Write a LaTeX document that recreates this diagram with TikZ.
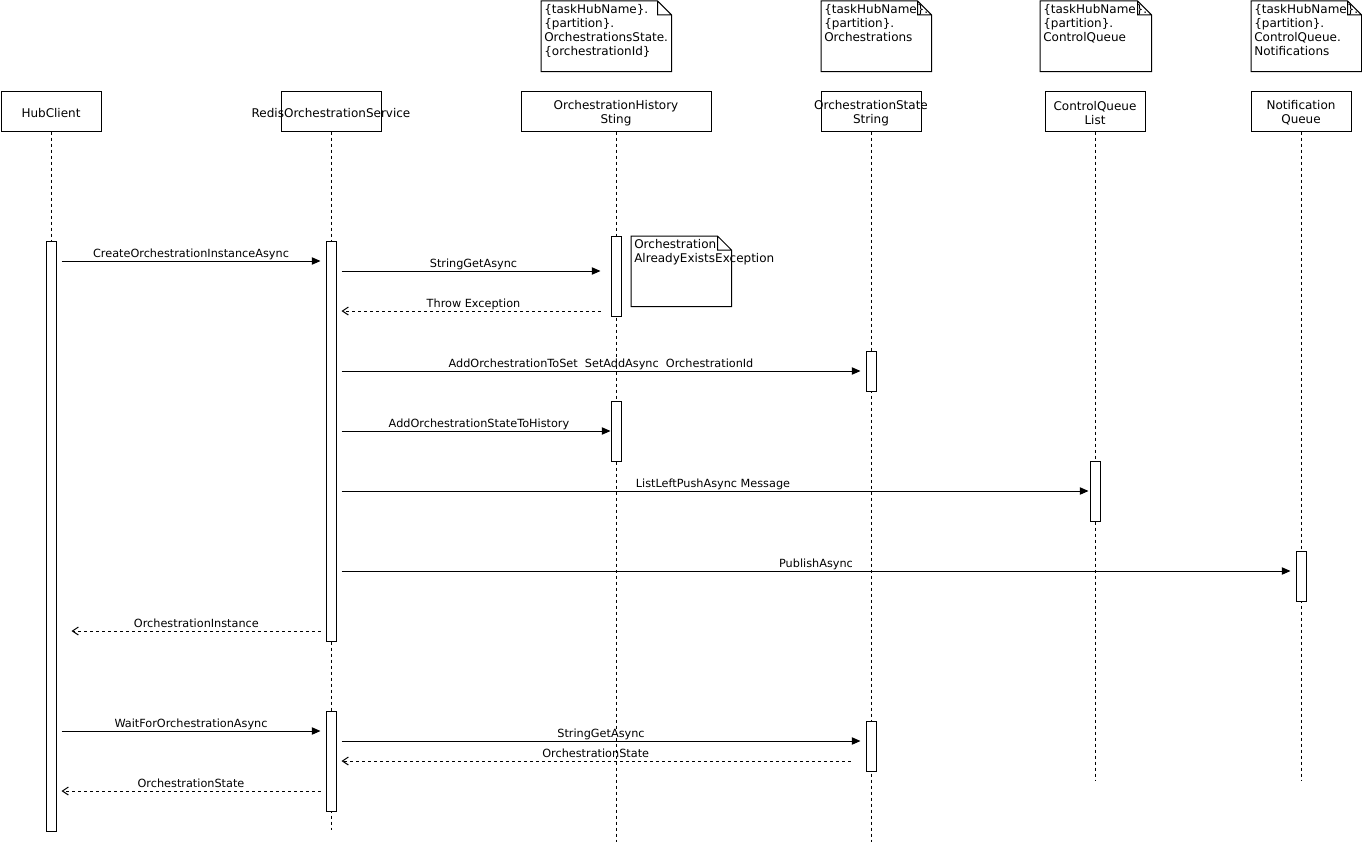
\documentclass[tikz,border=0pt]{standalone}
\usepackage{fontspec}
\setmainfont{DejaVu Sans}
\usetikzlibrary{arrows.meta}

\begin{document}
\begin{tikzpicture}[
    x=0.75pt, y=-0.75pt,
    lifehead/.style={
        draw,
        line width=0.75pt,
        minimum width=75pt,
        minimum height=30pt,
        inner sep=0pt,
    },
    headtext/.style={
        inner sep=0pt,
        align=center,
        yshift=-1.5pt,
        font=\fontsize{9}{10.5}\selectfont,
    },
    lifeline/.style={
        line width=0.75pt,
        dash pattern=on 2.25pt off 2.25pt,
    },
    act/.style={
        draw,
        fill=white,
        line width=0.75pt,
        anchor=north,
        minimum width=7.5pt,
        inner sep=0pt,
    },
    notebox/.style={
        anchor=north west,
        minimum height=52.5pt,
        inner sep=0pt,
    },
    note/.style={
        line width=0.75pt,
        line join=miter,
    },
    notetext/.style={
        anchor=north west,
        inner sep=0pt,
        align=left,
        font=\fontsize{9}{10.5}\selectfont,
    },
    call/.style={
        line width=0.75pt,
        -{Triangle[length=6.5pt, width=5.5pt]},
    },
    reply/.style={
        line width=0.75pt,
        dash pattern=on 2.25pt off 2.25pt,
        -{Straight Barb[length=4.5pt, width=6pt]},
    },
    msg/.style={
        above=2.5pt,
        inner sep=0pt,
        text depth=0pt,
        font=\fontsize{8.45}{10}\selectfont,
    }
]
    \useasboundingbox (0,0) rectangle (1362,842);

    % Participants
    \node[lifehead, label={[headtext]center:HubClient}] (hub) at (51,111) {};
    \node[lifehead, label={[headtext]center:RedisOrchestrationService}] (redis) at (331,111) {};
    \node[lifehead, minimum width=142.5pt,
        label={[headtext]center:{OrchestrationHistory\\Sting}}] (hist) at (616,111) {};
    \node[lifehead, label={[headtext]center:{OrchestrationState\\String}}] (state) at (871,111) {};
    \node[lifehead, label={[headtext]center:{ControlQueue\\List}}] (ctrl) at (1095,111) {};
    \node[lifehead, label={[headtext]center:{Notification\\Queue}}] (notif) at (1301,111) {};

    % Lifelines
    \coordinate (hubEnd) at (51,831);
    \coordinate (redisEnd) at (331,830);
    \coordinate (histEnd) at (616,842);
    \coordinate (stateEnd) at (871,842);
    \coordinate (ctrlEnd) at (1095,780);
    \coordinate (notifEnd) at (1301,780);
    \foreach \p in {hub, redis, hist, state, ctrl, notif}
        \draw[lifeline] (\p.south) -- (\p End);

    % Activations
    \node[act, minimum height=442.5pt] (hubA) at (51,241) {};
    \node[act, minimum height=300pt] (redisA) at (331,241) {};
    \node[act, minimum height=75pt] (redisB) at (331,711) {};
    \node[act, minimum height=60pt] (histA) at (616,236) {};
    \node[act, minimum height=45pt] (histB) at (616,401) {};
    \node[act, minimum height=30pt] (stateA) at (871,351) {};
    \node[act, minimum height=37.5pt] (stateB) at (871,721) {};
    \node[act, minimum height=45pt] (ctrlA) at (1095,461) {};
    \node[act, minimum height=37.5pt] (notifA) at (1301,551) {};

    % Notes
    \node[notebox, minimum width=97.5pt] (nKey) at (541,1) {};
    \node[notebox, minimum width=82.5pt] (nSet) at (821,1) {};
    \node[notebox, minimum width=83.25pt] (nCtrl) at (1040,1) {};
    \node[notebox, minimum width=82.5pt] (nNotif) at (1251,1) {};
    \node[notebox, minimum width=75pt] (nErr) at (631,236) {};
    \foreach \n in {nKey, nSet, nCtrl, nNotif, nErr}
        \draw[note] (\n.north west) -- ([xshift=-10.5pt]\n.north east)
            -- ([yshift=-10.5pt]\n.north east) -- (\n.south east)
            -- (\n.south west) -- cycle
            ([xshift=-10.5pt]\n.north east) |- ([yshift=-10.5pt]\n.north east);

    \node[notetext] (nKeyT) at ([shift={(2.25pt,-2.5pt)}]nKey.north west)
        {\{taskHubName\}.\\\{partition\}.\\OrchestrationsState.\\\{orchestrationId\}};
    \node[notetext] (nSetT) at ([shift={(2.25pt,-2.5pt)}]nSet.north west)
        {\{taskHubName\}.\\\{partition\}.\\Orchestrations};
    \node[notetext] (nCtrlT) at ([shift={(2.25pt,-2.5pt)}]nCtrl.north west)
        {\{taskHubName\}.\\\{partition\}.\\ControlQueue};
    \node[notetext] (nNotifT) at ([shift={(2.25pt,-2.5pt)}]nNotif.north west)
        {\{taskHubName\}.\\\{partition\}.\\ControlQueue.\\Notifications};
    \node[notetext] (nErrT) at ([shift={(2.25pt,-2.25pt)}]nErr.north west)
        {Orchestration\\AlreadyExistsException};

    % Messages
    \draw[call, shorten <=3.75pt, shorten >=3.75pt] (hubA.east |- 0,261)
        -- node[msg] {CreateOrchestrationInstanceAsync} (redisA.west |- 0,261);
    \draw[call, shorten <=3.75pt, shorten >=7.5pt] (redisA.east |- 0,271)
        -- node[msg] {StringGetAsync} (histA.west |- 0,271);
    \draw[reply, shorten <=7.5pt, shorten >=3.75pt] (histA.west |- 0,311)
        -- node[msg] {Throw Exception} (redisA.east |- 0,311);
    \draw[call, shorten <=3.75pt, shorten >=3.75pt] (redisA.east |- 0,371)
        -- node[msg] {AddOrchestrationToSet\ \ SetAddAsync\ \ OrchestrationId} (stateA.west |- 0,371);
    \draw[call, shorten <=3.75pt] (redisA.east |- 0,431)
        -- node[msg, pos=0.52] {AddOrchestrationStateToHistory} (histB.west |- 0,431);
    \draw[call, shorten <=3.75pt, shorten >=0.75pt] (redisA.east |- 0,491)
        -- node[msg] {ListLeftPushAsync Message} (ctrlA.west |- 0,491);
    \draw[call, shorten <=3.75pt, shorten >=3.75pt] (redisA.east |- 0,571)
        -- node[msg] {PublishAsync} (notifA.west |- 0,571);
    \draw[reply, shorten <=3.75pt, shorten >=11.25pt] (redisA.west |- 0,631)
        -- node[msg, pos=0.48] {OrchestrationInstance} (hubA.east |- 0,631);

    \draw[call, shorten <=3.75pt, shorten >=3.75pt] (hubA.east |- 0,731)
        -- node[msg] {WaitForOrchestrationAsync} (redisB.west |- 0,731);
    \draw[call, shorten <=3.75pt, shorten >=3.75pt] (redisB.east |- 0,741)
        -- node[msg] {StringGetAsync} (stateB.west |- 0,741);
    \draw[reply, shorten <=11.25pt, shorten >=3.75pt] (stateB.west |- 0,761)
        -- node[msg, pos=0.51] {OrchestrationState} (redisB.east |- 0,761);
    \draw[reply, shorten <=3.75pt, shorten >=3.75pt] (redisB.west |- 0,791)
        -- node[msg] {OrchestrationState} (hubA.east |- 0,791);
\end{tikzpicture}
\end{document}
